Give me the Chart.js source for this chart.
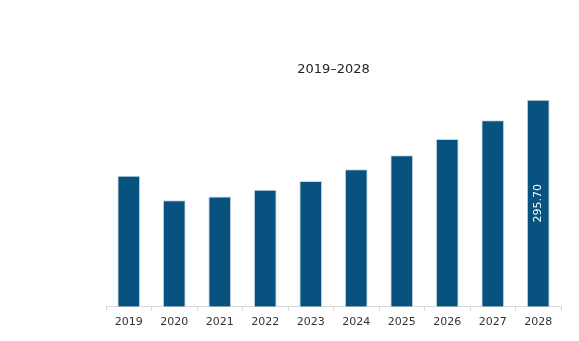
<!DOCTYPE html>
<html>
<head>
<meta charset="utf-8">
<script src="https://cdn.jsdelivr.net/npm/chart.js@4"></script>
<style>
  html, body { margin: 0; padding: 0; background: #fff; }
  #wrap { width: 579px; height: 341px; }
</style>
</head>
<body>
<div id="wrap"><canvas id="chart"></canvas></div>
<script>
const years = ['2019', '2020', '2021', '2022', '2023', '2024', '2025', '2026', '2027', '2028'];
const values = [186.9, 152.2, 157.4, 166.9, 179.7, 196.4, 216.4, 239.6, 266.3, 295.70];
const labelled = ['', '', '', '', '', '', '', '', '', '295.70'];
const titleText = '2019–2028';

// white rotated value label inside the bar
const barLabels = {
  id: 'barLabels',
  afterDatasetsDraw(chart) {
    const ctx = chart.ctx;
    const meta = chart.getDatasetMeta(0);
    meta.data.forEach((bar, i) => {
      if (!labelled[i]) return;
      const y = (bar.y + bar.base) / 2;
      ctx.save();
      ctx.translate(bar.x, y);
      ctx.rotate(-Math.PI / 2);
      ctx.fillStyle = '#ffffff';
      ctx.font = '11px "DejaVu Sans"';
      ctx.textAlign = 'center';
      ctx.textBaseline = 'middle';
      ctx.fillText(labelled[i], 0, 0);
      ctx.restore();
    });
  }
};

const ctx = document.getElementById('chart');
let chart = new Chart(ctx, {
  type: 'bar',
  data: {
    labels: years,
    datasets: [{
      data: values,
      backgroundColor: '#08527f',
      borderColor: '#c9d6e0',
      borderWidth: 1,
      borderSkipped: 'start',
      categoryPercentage: 1,
      barPercentage: 0.5
    }]
  },
  options: {
    responsive: true,
    maintainAspectRatio: false,
    animation: false,
    layout: { padding: { left: 106, right: 18, top: 0, bottom: 7 } },
    plugins: {
      legend: { display: false },
      tooltip: { enabled: false },
      title: {
        display: true,
        text: titleText,
        color: '#222222',
        font: { family: 'DejaVu Sans', size: 13, weight: 'normal' },
        padding: { top: 62, bottom: 5 }
      }
    },
    scales: {
      x: {
        grid: {
          display: true,
          drawOnChartArea: false,
          drawTicks: true,
          tickLength: 4,
          color: '#d9d9d9',
          offset: true
        },
        border: { display: true, color: '#d9d9d9', width: 1 },
        ticks: {
          color: '#333333',
          padding: 5,
          font: { family: 'DejaVu Sans', size: 11 },
          maxRotation: 0
        }
      },
      y: {
        display: false,
        min: 0,
        max: 320
      }
    }
  },
  plugins: [barLabels]
});
</script>
</body>
</html>
